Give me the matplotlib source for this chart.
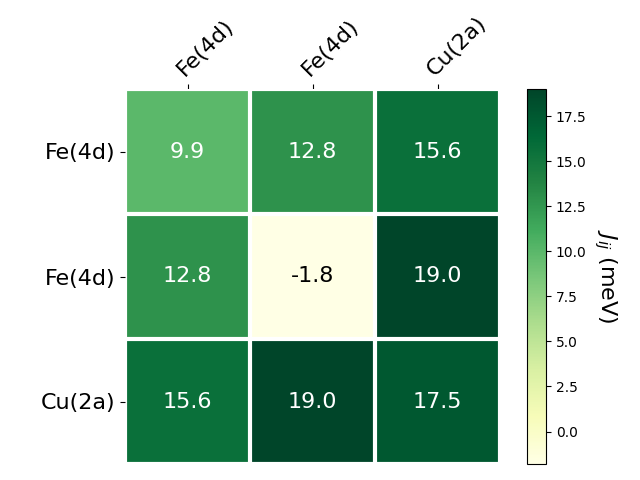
"""Exchange coupling heatmap."""

import matplotlib.pyplot as plt
import numpy as np

ROW_LABELS = ["Fe(4d)", "Fe(4d)", "Cu(2a)"]
COL_LABELS = ["Fe(4d)", "Fe(4d)", "Cu(2a)"]
J_MEV = np.array(
    [
        [9.9, 12.8, 15.6],
        [12.8, -1.8, 19.0],
        [15.6, 19.0, 17.5],
    ]
)


def main() -> None:
    fig = plt.figure(figsize=(6.4, 4.8), dpi=100)
    ax = fig.add_axes([125 / 640, 16 / 480, 375 / 640, 375 / 480])
    cax = fig.add_axes([527 / 640, 16 / 480, 19 / 640, 375 / 480])

    im = ax.imshow(J_MEV, cmap="YlGn")
    cbar = fig.colorbar(im, cax=cax)
    cbar.ax.set_ylabel(r"$J_{ij}$ (meV)", rotation=-90, va="bottom", fontsize=16)

    ax.set_xticks(np.arange(J_MEV.shape[1]), labels=COL_LABELS, fontsize=16)
    ax.set_yticks(np.arange(J_MEV.shape[0]), labels=ROW_LABELS, fontsize=16)
    ax.tick_params(top=True, bottom=False, labeltop=True, labelbottom=False)
    plt.setp(ax.get_xticklabels(), rotation=45, ha="left", rotation_mode="anchor")

    ax.spines[:].set_visible(False)
    ax.set_xticks(np.arange(J_MEV.shape[1] + 1) - 0.5, minor=True)
    ax.set_yticks(np.arange(J_MEV.shape[0] + 1) - 0.5, minor=True)
    ax.grid(which="minor", color="w", linestyle="-", linewidth=3)
    ax.tick_params(which="minor", bottom=False, left=False, top=False)

    threshold = im.norm(J_MEV.max()) / 2
    for i in range(J_MEV.shape[0]):
        for j in range(J_MEV.shape[1]):
            colour = "white" if im.norm(J_MEV[i, j]) > threshold else "black"
            ax.text(j, i, f"{J_MEV[i, j]:.1f}", ha="center", va="center",
                    color=colour, fontsize=16)

    fig.savefig("out.png")


if __name__ == "__main__":
    main()
